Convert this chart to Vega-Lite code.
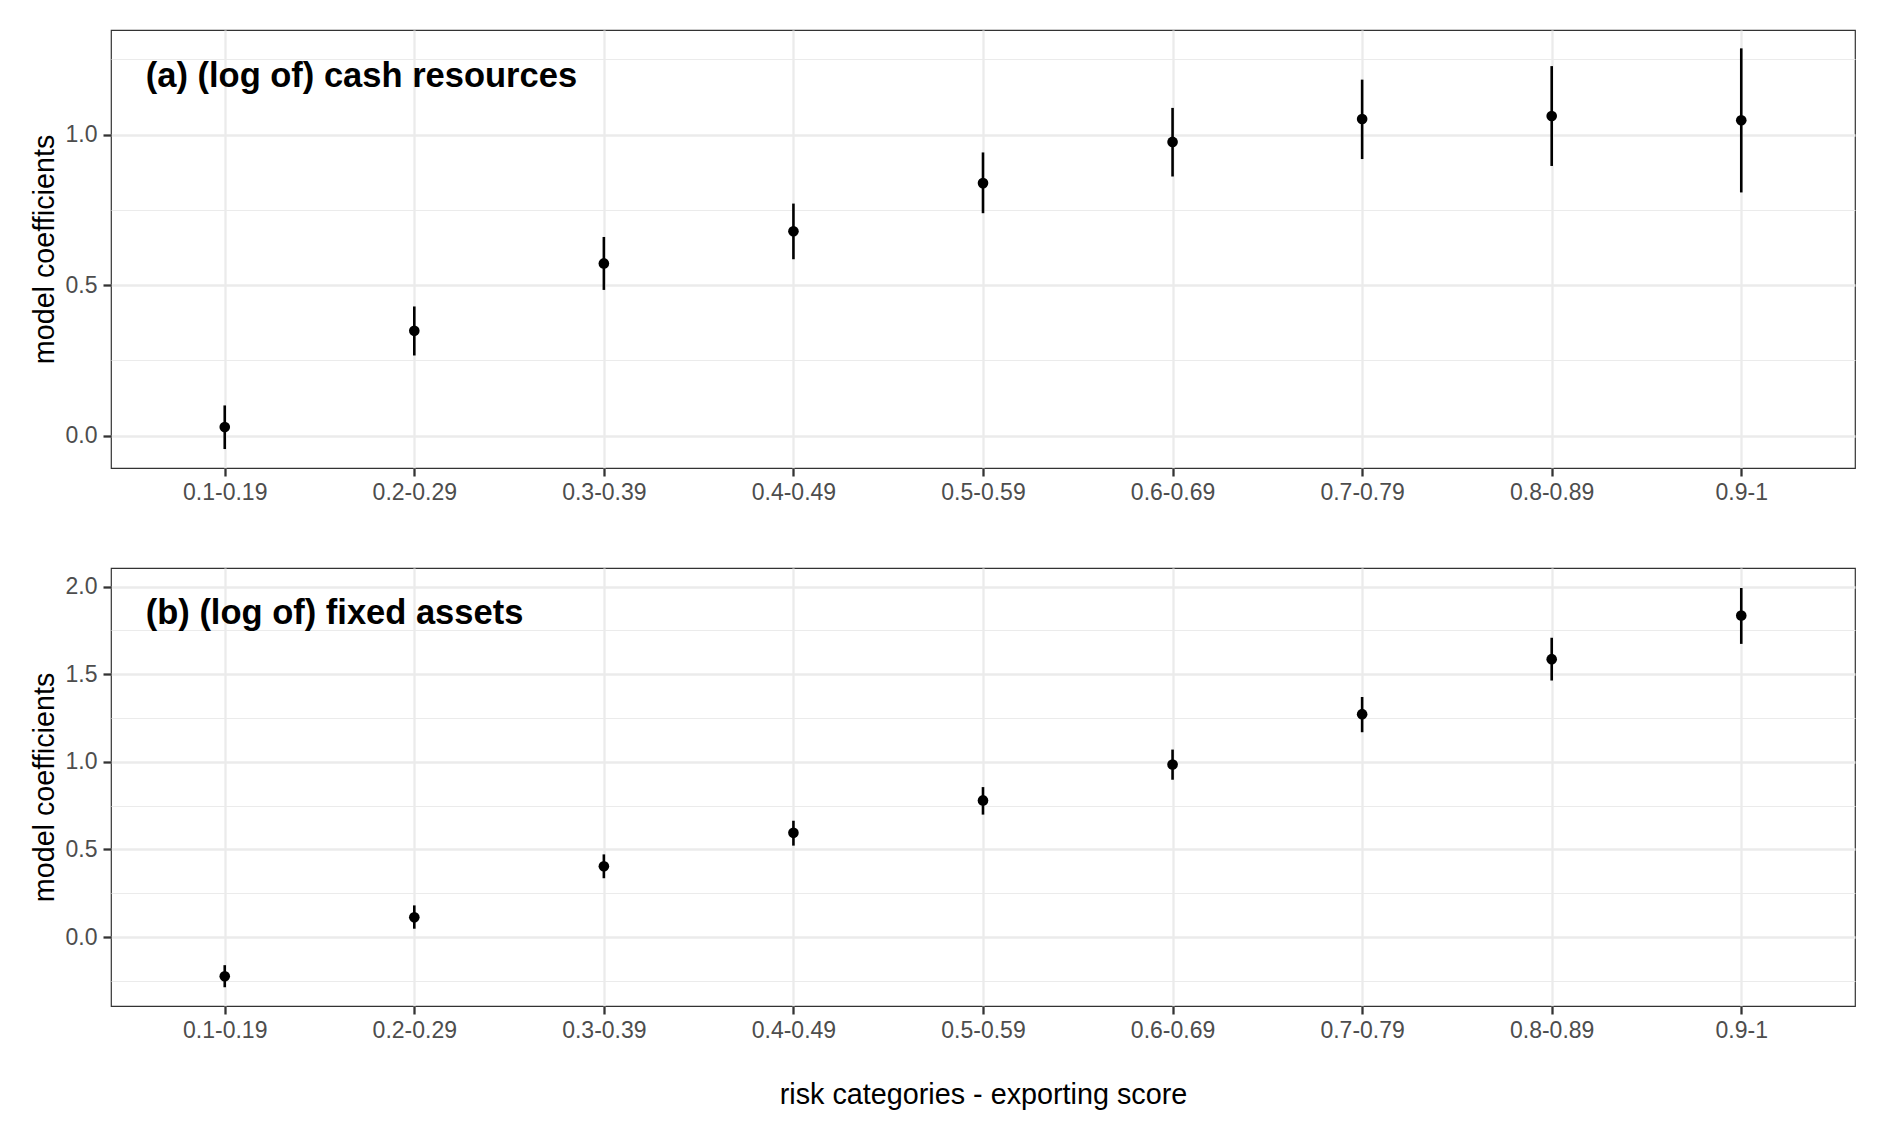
{
  "$schema": "https://vega.github.io/schema/vega-lite/v6.json",
  "background": "white",
  "padding": {"left": 29, "top": 29, "right": 29, "bottom": 10},
  "datasets": {
    "coef": [
      {"panel": "a", "cat": "0.1-0.19", "est": 0.028, "lo": -0.045, "hi": 0.100},
      {"panel": "a", "cat": "0.2-0.29", "est": 0.348, "lo": 0.266, "hi": 0.429},
      {"panel": "a", "cat": "0.3-0.39", "est": 0.572, "lo": 0.484, "hi": 0.660},
      {"panel": "a", "cat": "0.4-0.49", "est": 0.679, "lo": 0.586, "hi": 0.771},
      {"panel": "a", "cat": "0.5-0.59", "est": 0.839, "lo": 0.739, "hi": 0.941},
      {"panel": "a", "cat": "0.6-0.69", "est": 0.976, "lo": 0.861, "hi": 1.089},
      {"panel": "a", "cat": "0.7-0.79", "est": 1.052, "lo": 0.919, "hi": 1.183},
      {"panel": "a", "cat": "0.8-0.89", "est": 1.062, "lo": 0.896, "hi": 1.228},
      {"panel": "a", "cat": "0.9-1", "est": 1.048, "lo": 0.808, "hi": 1.287},
      {"panel": "b", "cat": "0.1-0.19", "est": -0.223, "lo": -0.286, "hi": -0.160},
      {"panel": "b", "cat": "0.2-0.29", "est": 0.113, "lo": 0.048, "hi": 0.181},
      {"panel": "b", "cat": "0.3-0.39", "est": 0.404, "lo": 0.336, "hi": 0.472},
      {"panel": "b", "cat": "0.4-0.49", "est": 0.595, "lo": 0.522, "hi": 0.664},
      {"panel": "b", "cat": "0.5-0.59", "est": 0.780, "lo": 0.699, "hi": 0.856},
      {"panel": "b", "cat": "0.6-0.69", "est": 0.985, "lo": 0.898, "hi": 1.070},
      {"panel": "b", "cat": "0.7-0.79", "est": 1.272, "lo": 1.169, "hi": 1.370},
      {"panel": "b", "cat": "0.8-0.89", "est": 1.586, "lo": 1.464, "hi": 1.708},
      {"panel": "b", "cat": "0.9-1", "est": 1.835, "lo": 1.673, "hi": 1.992}
    ],
    "labels": [
      {"panel": "a", "cat": "0.1-0.19", "est": 1.157, "text": "(a) (log of) cash resources"},
      {"panel": "b", "cat": "0.1-0.19", "est": 1.787, "text": "(b) (log of) fixed assets"}
    ]
  },
  "spacing": 100,
  "bounds": "flush",
  "vconcat": [
    {
      "width": 1744,
      "height": 438,
      "layer": [
        {
          "data": {"name": "coef"},
          "transform": [{"filter": "datum.panel == 'a'"}],
          "mark": {"type": "rule", "color": "black", "strokeWidth": 2.6},
          "encoding": {
            "x": {
              "field": "cat",
              "type": "nominal",
              "sort": null,
              "scale": {"type": "point", "padding": 0.6},
              "axis": {"title": null}
            },
            "y": {
              "field": "lo",
              "type": "quantitative",
              "scale": {"domain": [-0.108, 1.348], "nice": false, "zero": false},
              "axis": {
                "title": "model coefficients",
                "values": [0, 0.25, 0.5, 0.75, 1, 1.25],
                "labelExpr": "datum.value % 0.5 === 0 ? format(datum.value, '.1f') : ''",
                "gridWidth": {"condition": {"test": "datum.value % 0.5 !== 0", "value": 1.15}, "value": 2.3},
                "tickOpacity": {"condition": {"test": "datum.value % 0.5 !== 0", "value": 0}, "value": 1}
              }
            },
            "y2": {"field": "hi"}
          }
        },
        {
          "data": {"name": "coef"},
          "transform": [{"filter": "datum.panel == 'a'"}],
          "mark": {"type": "circle", "color": "black", "opacity": 1, "size": 113},
          "encoding": {
            "x": {"field": "cat", "type": "nominal", "sort": null},
            "y": {"field": "est", "type": "quantitative"}
          }
        },
        {
          "data": {"name": "labels"},
          "transform": [{"filter": "datum.panel == 'a'"}],
          "mark": {"type": "text", "align": "left", "baseline": "alphabetic", "dx": -79, "fontSize": 34.5, "fontWeight": "bold", "color": "black"},
          "encoding": {
            "x": {"field": "cat", "type": "nominal", "sort": null},
            "y": {"field": "est", "type": "quantitative"},
            "text": {"field": "text"}
          }
        }
      ]
    },
    {
      "width": 1744,
      "height": 438,
      "layer": [
        {
          "data": {"name": "coef"},
          "transform": [{"filter": "datum.panel == 'b'"}],
          "mark": {"type": "rule", "color": "black", "strokeWidth": 2.6},
          "encoding": {
            "x": {
              "field": "cat",
              "type": "nominal",
              "sort": null,
              "scale": {"type": "point", "padding": 0.6},
              "axis": {"title": "risk categories - exporting score"}
            },
            "y": {
              "field": "lo",
              "type": "quantitative",
              "scale": {"domain": [-0.393, 2.106], "nice": false, "zero": false},
              "axis": {
                "title": "model coefficients",
                "values": [-0.25, 0, 0.25, 0.5, 0.75, 1, 1.25, 1.5, 1.75, 2],
                "labelExpr": "datum.value % 0.5 === 0 ? format(datum.value, '.1f') : ''",
                "gridWidth": {"condition": {"test": "datum.value % 0.5 !== 0", "value": 1.15}, "value": 2.3},
                "tickOpacity": {"condition": {"test": "datum.value % 0.5 !== 0", "value": 0}, "value": 1}
              }
            },
            "y2": {"field": "hi"}
          }
        },
        {
          "data": {"name": "coef"},
          "transform": [{"filter": "datum.panel == 'b'"}],
          "mark": {"type": "circle", "color": "black", "opacity": 1, "size": 113},
          "encoding": {
            "x": {"field": "cat", "type": "nominal", "sort": null},
            "y": {"field": "est", "type": "quantitative"}
          }
        },
        {
          "data": {"name": "labels"},
          "transform": [{"filter": "datum.panel == 'b'"}],
          "mark": {"type": "text", "align": "left", "baseline": "alphabetic", "dx": -79, "fontSize": 34.5, "fontWeight": "bold", "color": "black"},
          "encoding": {
            "x": {"field": "cat", "type": "nominal", "sort": null},
            "y": {"field": "est", "type": "quantitative"},
            "text": {"field": "text"}
          }
        }
      ]
    }
  ],
  "config": {
    "font": "Liberation Sans",
    "view": {"stroke": "#333333", "strokeWidth": 1.2},
    "axis": {
      "grid": true,
      "gridColor": "#EBEBEB",
      "gridWidth": 2.3,
      "domain": false,
      "tickColor": "#333333",
      "tickWidth": 2.3,
      "tickSize": 8,
      "labelFont": "Liberation Sans",
      "labelFontSize": 23,
      "labelColor": "#4D4D4D",
      "labelPadding": 5,
      "titleFont": "Liberation Sans",
      "titleFontSize": 28.75,
      "titleFontWeight": "normal",
      "titleColor": "black"
    },
    "axisX": {"labelAngle": 0, "titlePadding": 38},
    "axisY": {"labelPadding": 6, "titlePadding": 6}
  }
}
